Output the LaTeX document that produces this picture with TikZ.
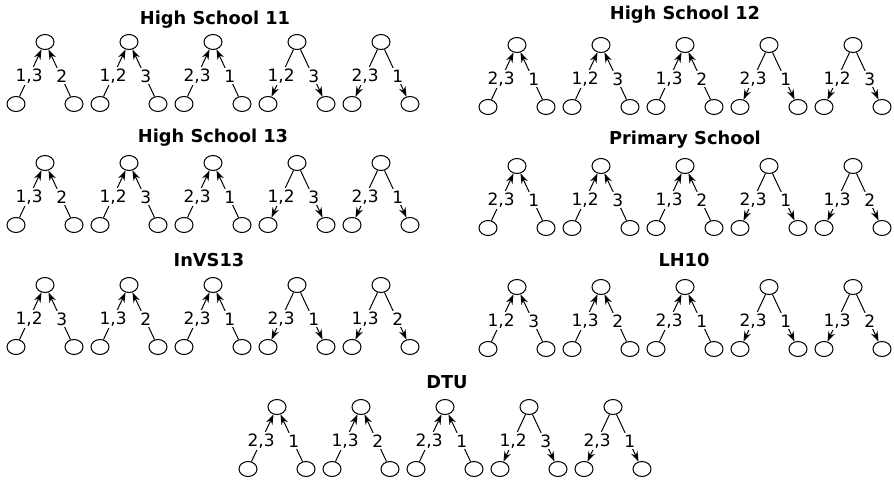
\documentclass[tikz,border=0pt]{standalone}
\usepackage{fontspec}
\setmainfont{DejaVu Sans}
\usetikzlibrary{arrows.meta,shapes.geometric}

\tikzset{
	vert/.style={draw, ellipse, minimum width=18pt, minimum height=15pt, inner sep=0pt, line width=1pt},
	wlabel/.style={fill=white, inner sep=1.5pt, font=\fontsize{17}{18}\selectfont},
	ttl/.style={font=\fontsize{17.8}{20}\selectfont\bfseries},
	arr/.style={line width=1pt, -{Stealth[length=10pt,width=7pt]}},
}

\newcommand{\triads}[7]{%
	\node[ttl] (#1-title) at (#5,#6) {#4};
	\foreach \a/\b [count=\k] in {#7} {
		\node[vert] (#1-\k-t) at ({#2+84*(\k-1)},#3) {};
		\node[vert] (#1-\k-l) at ({#2+84*(\k-1)-29},{#3+62}) {};
		\node[vert] (#1-\k-r) at ({#2+84*(\k-1)+29},{#3+62}) {};
		\ifnum\k<4
		\draw[arr] (#1-\k-l) -- node[wlabel,pos=.44]{\a} (#1-\k-t);
		\draw[arr] (#1-\k-r) -- node[wlabel,pos=.44,xshift=1pt]{\b} (#1-\k-t);
		\else
		\draw[arr] (#1-\k-t) -- node[wlabel,pos=.56]{\a} (#1-\k-l);
		\draw[arr] (#1-\k-t) -- node[wlabel,pos=.56,xshift=1pt]{\b} (#1-\k-r);
		\fi
	}%
}

\begin{document}
\begin{tikzpicture}[x=1pt,y=-1pt]
		\useasboundingbox (0,0) rectangle (894,481);
		
		\triads{hsa}{45}{42}{High School 11}{215}{20}{{1,3}/2,{1,2}/3,{2,3}/1,{1,2}/3,{2,3}/1}
		\triads{hsb}{517}{45}{High School 12}{685}{15}{{2,3}/1,{1,2}/3,{1,3}/2,{2,3}/1,{1,2}/3}
		\triads{hsc}{45}{163}{High School 13}{213}{138}{{1,3}/2,{1,2}/3,{2,3}/1,{1,2}/3,{2,3}/1}
		\triads{prim}{517}{166}{Primary School}{685}{140}{{2,3}/1,{1,2}/3,{1,3}/2,{2,3}/1,{1,3}/2}
		\triads{invs}{45}{285}{InVS13}{209}{260}{{1,2}/3,{1,3}/2,{2,3}/1,{2,3}/1,{1,3}/2}
		\triads{lh}{517}{287}{LH10}{684}{260}{{1,2}/3,{1,3}/2,{2,3}/1,{2,3}/1,{1,3}/2}
		\triads{dtu}{277}{407}{DTU}{447}{382}{{2,3}/1,{1,3}/2,{2,3}/1,{1,2}/3,{2,3}/1}
		\end{tikzpicture}
\end{document}
